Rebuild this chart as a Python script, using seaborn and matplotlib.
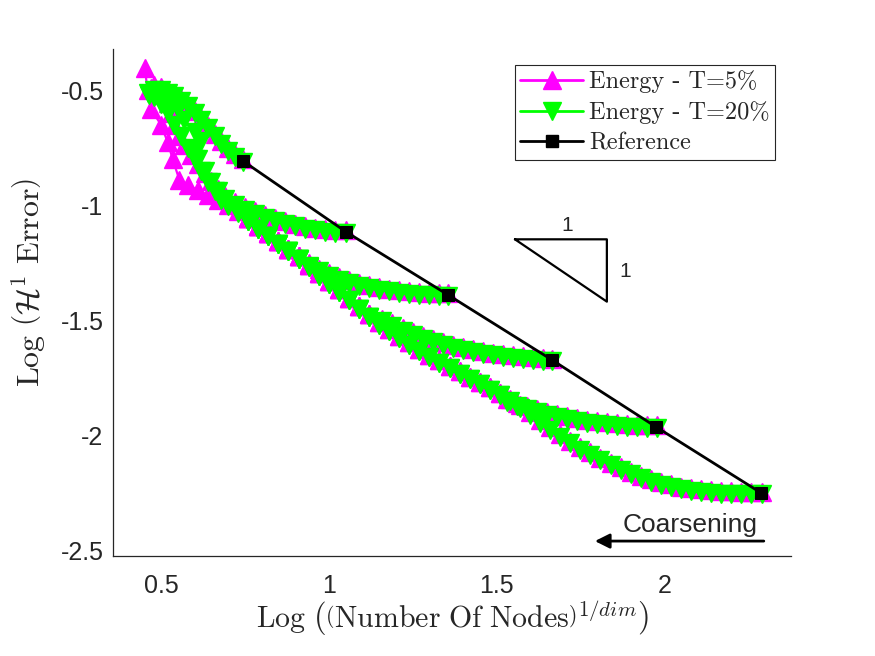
import matplotlib
matplotlib.use('Agg')
import matplotlib.pyplot as plt
import seaborn as sns
from matplotlib.lines import Line2D
from matplotlib.ticker import FuncFormatter

# Reference points (squares)
ref_x = [0.744, 1.052, 1.356, 1.666, 1.976, 2.289]
ref_y = [-0.807, -1.116, -1.390, -1.673, -1.964, -2.251]

# Lower envelope (finest branch, then shared by all branches)
env_x = [2.29, 2.26, 2.23, 2.20, 2.17, 2.14, 2.11, 2.08, 2.05, 2.02,
         1.99, 1.96, 1.93, 1.90, 1.87, 1.84, 1.81, 1.78, 1.75, 1.72,
         1.69, 1.66, 1.63, 1.60, 1.57, 1.54, 1.51, 1.48, 1.45, 1.42,
         1.39, 1.36, 1.33, 1.30, 1.27, 1.24, 1.21, 1.18, 1.15, 1.12,
         1.09, 1.06, 1.03, 1.00, 0.97, 0.94, 0.91, 0.88, 0.85, 0.82,
         0.79, 0.76]
env_y_5 = [-2.245, -2.245, -2.245, -2.244, -2.242, -2.239, -2.235, -2.230, -2.223, -2.214,
           -2.203, -2.190, -2.175, -2.158, -2.139, -2.119, -2.097, -2.074, -2.050, -2.023,
           -1.995, -1.965, -1.933, -1.900, -1.870, -1.842, -1.815, -1.790, -1.767, -1.745,
           -1.722, -1.698, -1.674, -1.650, -1.623, -1.596, -1.567, -1.537, -1.507, -1.473,
           -1.438, -1.402, -1.366, -1.330, -1.294, -1.258, -1.222, -1.188, -1.155, -1.122,
           -1.089, -1.056]
env_y_20 = [-2.256, -2.257, -2.256, -2.255, -2.254, -2.250, -2.247, -2.241, -2.235, -2.225,
            -2.215, -2.201, -2.187, -2.169, -2.151, -2.130, -2.109, -2.085, -2.062, -2.034,
            -2.007, -1.976, -1.945, -1.911, -1.882, -1.853, -1.827, -1.801, -1.779, -1.756,
            -1.734, -1.709, -1.686, -1.661, -1.635, -1.607, -1.579, -1.548, -1.519, -1.484,
            -1.450, -1.413, -1.378, -1.341, -1.306, -1.269, -1.234, -1.199, -1.167, -1.133,
            -1.101, -1.067]

# coarse end of the envelope (top-left mess)
tail_x_5 = [0.73, 0.70, 0.67, 0.64, 0.61, 0.58, 0.555, 0.535, 0.52, 0.50, 0.47, 0.46, 0.452]
tail_y_5 = [-1.025, -0.998, -0.975, -0.955, -0.935, -0.912, -0.890, -0.800, -0.725, -0.650, -0.580, -0.500, -0.404]
tail_x_20 = [0.73, 0.70, 0.68, 0.66, 0.64, 0.62, 0.60, 0.58, 0.56, 0.54, 0.52, 0.50, 0.48, 0.46]
tail_y_20 = [-1.035, -1.005, -0.975, -0.940, -0.900, -0.850, -0.800, -0.750, -0.700, -0.650, -0.600, -0.560, -0.530, -0.510]

# branch starting at 1.976
b5_x = [1.978, 1.95, 1.92, 1.89, 1.86, 1.83, 1.80, 1.77, 1.74, 1.71, 1.68, 1.65, 1.62, 1.59, 1.56, 1.53]
b5_y_5 = [-1.957, -1.956, -1.954, -1.951, -1.948, -1.944, -1.939, -1.933, -1.926, -1.918,
          -1.909, -1.898, -1.886, -1.873, -1.859, -1.844]
b5_y_20 = [-1.969, -1.968, -1.966, -1.963, -1.960, -1.956, -1.951, -1.945, -1.938, -1.930,
           -1.921, -1.910, -1.898, -1.885, -1.871, -1.856]

# branch starting at 1.666
b4_x = [1.666, 1.64, 1.61, 1.58, 1.55, 1.52, 1.49, 1.46, 1.43, 1.40, 1.37, 1.34, 1.31, 1.28, 1.25, 1.22, 1.19, 1.16]
b4_y_5 = [-1.667, -1.664, -1.661, -1.657, -1.652, -1.647, -1.641, -1.634, -1.626, -1.617,
          -1.607, -1.596, -1.583, -1.569, -1.553, -1.534, -1.514, -1.493]
b4_y_20 = [-1.679, -1.676, -1.673, -1.669, -1.664, -1.659, -1.653, -1.646, -1.638, -1.629,
           -1.619, -1.608, -1.595, -1.581, -1.565, -1.546, -1.526, -1.505]

# branch starting at 1.356
b3_x = [1.356, 1.33, 1.30, 1.27, 1.24, 1.21, 1.18, 1.15, 1.12, 1.09, 1.06, 1.03, 1.00, 0.97, 0.94]
b3_y_5 = [-1.383, -1.382, -1.380, -1.377, -1.373, -1.368, -1.362, -1.355, -1.347, -1.338,
          -1.327, -1.313, -1.296, -1.275, -1.250]
b3_y_20 = [-1.395, -1.394, -1.392, -1.389, -1.385, -1.380, -1.374, -1.367, -1.359, -1.350,
           -1.339, -1.325, -1.308, -1.287, -1.262]

# branch starting at 1.052
b2_x_5 = [1.052, 1.02, 0.99, 0.96, 0.93, 0.90, 0.87, 0.84, 0.81, 0.78, 0.75, 0.72, 0.69,
          0.67, 0.65, 0.63, 0.61, 0.59, 0.57, 0.555, 0.54, 0.53, 0.52, 0.51, 0.49, 0.47]
b2_y_5 = [-1.109, -1.107, -1.103, -1.097, -1.089, -1.080, -1.069, -1.057, -1.043, -1.027,
          -1.009, -0.987, -0.959, -0.930, -0.895, -0.860, -0.820, -0.780, -0.740, -0.700,
          -0.650, -0.600, -0.555, -0.520, -0.500, -0.490]
b2_x_20 = [1.052, 1.02, 0.99, 0.96, 0.93, 0.90, 0.87, 0.84, 0.81, 0.78, 0.75, 0.72, 0.69,
           0.67, 0.65, 0.63, 0.61, 0.60, 0.62, 0.60, 0.57, 0.55, 0.53, 0.51, 0.49]
b2_y_20 = [-1.121, -1.119, -1.115, -1.109, -1.101, -1.092, -1.081, -1.069, -1.055, -1.039,
           -1.021, -0.999, -0.971, -0.940, -0.900, -0.850, -0.800, -0.760, -0.720, -0.680,
           -0.630, -0.580, -0.550, -0.530, -0.510]

# branch starting at 0.744
b1_x_5 = [0.744, 0.72, 0.70, 0.68, 0.66, 0.64, 0.62, 0.60, 0.58, 0.56, 0.54, 0.52, 0.50, 0.48]
b1_y_5 = [-0.800, -0.775, -0.750, -0.720, -0.690, -0.655, -0.620, -0.590, -0.565, -0.540,
          -0.520, -0.500, -0.485, -0.475]
b1_x_20 = [0.744, 0.72, 0.70, 0.68, 0.66, 0.64, 0.62, 0.60, 0.58, 0.56, 0.54, 0.52, 0.50, 0.48, 0.465]
b1_y_20 = [-0.812, -0.790, -0.765, -0.735, -0.700, -0.665, -0.630, -0.600, -0.570, -0.545,
           -0.525, -0.510, -0.500, -0.500, -0.520]

# slope triangle
tri_x = [1.555, 1.829, 1.829, 1.555]
tri_y = [-1.148, -1.148, -1.419, -1.148]

MAGENTA = '#FF00FF'
GREEN = '#00FF00'

sns.set_style('white')
plt.rcParams['font.family'] = ['Liberation Sans', 'DejaVu Sans']
plt.rcParams['mathtext.fontset'] = 'cm'
plt.rcParams['axes.unicode_minus'] = False

fig = plt.figure(figsize=(8.75, 6.56), dpi=100)
ax = fig.add_axes([0.1295, 0.1524, 0.7742, 0.7724])


def branches(y_env, tail_x, tail_y, b5y, b4y, b3y, b2x, b2y, b1x, b1y):
    i5 = env_x.index(1.51)
    i4 = env_x.index(1.12)
    i3 = env_x.index(0.91)
    return [
        (env_x + tail_x, y_env + tail_y),
        (b5_x + env_x[i5:], b5y + y_env[i5:]),
        (b4_x + env_x[i4:], b4y + y_env[i4:]),
        (b3_x + env_x[i3:], b3y + y_env[i3:]),
        (b2x, b2y),
        (b1x, b1y),
    ]


series = [
    (MAGENTA, '^', branches(env_y_5, tail_x_5, tail_y_5, b5_y_5, b4_y_5, b3_y_5,
                            b2_x_5, b2_y_5, b1_x_5, b1_y_5)),
    (GREEN, 'v', branches(env_y_20, tail_x_20, tail_y_20, b5_y_20, b4_y_20, b3_y_20,
                          b2_x_20, b2_y_20, b1_x_20, b1_y_20)),
]

for color, mk, lines in series:
    for xs, ys in lines:
        sns.lineplot(x=xs, y=ys, sort=False, estimator=None, color=color, marker=mk,
                     markersize=12.5, markeredgecolor=color, markeredgewidth=1,
                     linewidth=1.6, ax=ax)

sns.lineplot(x=ref_x, y=ref_y, sort=False, estimator=None, color='k', marker='s',
             markersize=8.5, markeredgecolor='k', linewidth=2, ax=ax)

ax.plot(tri_x, tri_y, color='k', linewidth=1.6)
ax.text(1.710, -1.090, '1', fontsize=15, ha='center', va='center')
ax.text(1.885, -1.289, '1', fontsize=15, ha='center', va='center')

ax.annotate('', xy=(1.785, -2.460), xytext=(2.305, -2.460),
            arrowprops=dict(arrowstyle='-|>', color='k', lw=2, mutation_scale=22))
ax.text(1.877, -2.419, 'Coarsening', fontsize=19, ha='left', va='baseline')

ax.set_xlim(0.358, 2.377)
ax.set_ylim(-2.525, -0.322)
ax.set_xticks([0.5, 1, 1.5, 2])
ax.set_yticks([-2.5, -2, -1.5, -1, -0.5])
fmt = FuncFormatter(lambda v, p: '%g' % v)
ax.xaxis.set_major_formatter(fmt)
ax.yaxis.set_major_formatter(fmt)
ax.tick_params(direction='in', length=5, width=0.8, colors='#262626', labelsize=18)
ax.tick_params(axis='x', pad=13)
ax.tick_params(axis='y', pad=7)
for s in ['top', 'right']:
    ax.spines[s].set_visible(False)
for s in ['left', 'bottom']:
    ax.spines[s].set_color('#262626')
    ax.spines[s].set_linewidth(0.9)

ax.set_xlabel(r'$\mathrm{Log}\ \left(\left(\mathrm{Number\ Of\ Nodes}\right)^{1/dim}_{\,}\right)$',
              fontsize=21.5, color='#262626')
ax.set_ylabel(r'$\mathrm{Log}\ \left(\mathcal{H}^1\ \mathrm{Error}\right)$',
              fontsize=23, color='#262626')
ax.xaxis.set_label_coords(0.5, -0.085)
ax.yaxis.set_label_coords(-0.097, 0.54)

handles = [
    Line2D([], [], color=MAGENTA, marker='^', markersize=12.5, linewidth=2),
    Line2D([], [], color=GREEN, marker='v', markersize=12.5, linewidth=2),
    Line2D([], [], color='k', marker='s', markersize=8.5, linewidth=2),
]
leg = ax.legend(handles, ['Energy - T=5%', 'Energy - T=20%', 'Reference'],
                loc='upper right', bbox_to_anchor=(0.977, 0.969), borderaxespad=0,
                prop={'family': 'cmr10', 'size': 17.5}, handlelength=2.6,
                handletextpad=0.25, labelspacing=0.33, borderpad=0.22,
                frameon=True, fancybox=False, edgecolor='#262626', framealpha=1)
leg.get_frame().set_linewidth(0.8)

fig.savefig('out.png', dpi=100)
